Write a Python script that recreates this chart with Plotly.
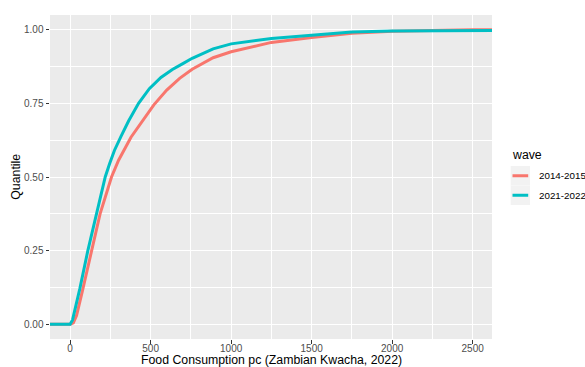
import plotly.graph_objects as go

# ECDF points (x = food consumption pc, q = quantile)
wave_names = ["2014-2015", "2021-2022"]
wave_colors = ["#F8766D", "#00BFC4"]

x_2014 = [-1000, 0, 20, 40, 75, 132, 186, 257, 301, 378, 450, 520, 600, 680, 758, 888, 1000, 1250, 1500, 1750, 2000, 2250, 2500, 4000]
q_2014 = [0, 0, 0.005, 0.03, 0.11, 0.25, 0.375, 0.50, 0.557, 0.635, 0.693, 0.745, 0.795, 0.835, 0.866, 0.905, 0.925, 0.957, 0.974, 0.988, 0.995, 0.998, 1.0, 1.0]

x_2021 = [-1000, 0, 15, 30, 60, 110, 163, 218, 245, 275, 316, 363, 425, 492, 564, 635, 700, 758, 888, 1000, 1250, 1500, 1750, 2000, 2250, 2500, 4000]
q_2021 = [0, 0, 0.015, 0.05, 0.12, 0.25, 0.375, 0.50, 0.545, 0.59, 0.638, 0.69, 0.75, 0.80, 0.838, 0.865, 0.885, 0.903, 0.935, 0.952, 0.970, 0.982, 0.992, 0.996, 0.998, 1.0, 1.0]

x_ticks = [0, 500, 1000, 1500, 2000, 2500]
y_ticks = [0.0, 0.25, 0.5, 0.75, 1.0]
y_tick_labels = ["0.00", "0.25", "0.50", "0.75", "1.00"]

FONT = "Liberation Sans, Arial, sans-serif"

fig = go.Figure()
for name, color, xs, qs in [(wave_names[0], wave_colors[0], x_2014, q_2014),
                            (wave_names[1], wave_colors[1], x_2021, q_2021)]:
    fig.add_trace(go.Scatter(x=xs, y=qs, mode="lines", name=name,
                             line=dict(color=color, width=3), showlegend=False))

L, R, T, B = 50, 93, 15, 28
W, H = 585, 367
pw, ph = W - L - R, H - T - B

def px(xp):
    return (xp - L) / pw

def py(yp):
    return (H - B - yp) / ph

fig.update_layout(
    width=W, height=H,
    margin=dict(l=L, r=R, t=T, b=B, autoexpand=False),
    paper_bgcolor="white", plot_bgcolor="#EBEBEB",
    font=dict(family=FONT),
    xaxis=dict(range=[-125, 2620], tickvals=x_ticks, ticktext=[str(v) for v in x_ticks],
               showgrid=True, gridcolor="white", gridwidth=1.2, zeroline=False,
               ticks="outside", ticklen=3.5, tickcolor="#333333", tickwidth=1,
               tickfont=dict(size=10, color="#4D4D4D", family=FONT),
               ticklabelstandoff=-4,
               minor=dict(tickvals=[-250, 250, 750, 1250, 1750, 2250], showgrid=True,
                          gridcolor="white", gridwidth=0.6, ticks=""),
               showline=False, automargin=False),
    yaxis=dict(range=[-0.05, 1.05], tickvals=y_ticks, ticktext=y_tick_labels,
               showgrid=True, gridcolor="white", gridwidth=1.2, zeroline=False,
               ticks="outside", ticklen=3.5, tickcolor="#333333", tickwidth=1,
               tickfont=dict(size=10, color="#4D4D4D", family=FONT),
               minor=dict(tickvals=[0.125, 0.375, 0.625, 0.875], showgrid=True,
                          gridcolor="white", gridwidth=0.6, ticks=""),
               showline=False, automargin=False),
)

annotations = [
    dict(text="Food Consumption pc (Zambian Kwacha, 2022)", x=0.5, y=py(360),
         xref="paper", yref="paper", xanchor="center", yanchor="middle",
         showarrow=False, font=dict(size=12.3, color="black", family=FONT)),
    dict(text="Quantile", x=px(15.7), y=py(177), xref="paper", yref="paper",
         xanchor="center", yanchor="middle", textangle=-90,
         showarrow=False, font=dict(size=12.3, color="black", family=FONT)),
    dict(text="wave", x=px(510), y=py(155), xref="paper", yref="paper",
         xanchor="left", yanchor="middle", showarrow=False,
         font=dict(size=12.3, color="black", family=FONT)),
]
shapes = []
key_tops = [166, 185.5]
for i, (name, color) in enumerate(zip(wave_names, wave_colors)):
    top = key_tops[i]
    bot = top + 19.5
    cy = (top + bot) / 2
    shapes.append(dict(type="rect", xref="paper", yref="paper",
                       x0=px(510.7), x1=px(530), y0=py(bot), y1=py(top),
                       fillcolor="#F2F2F2", line=dict(width=0), layer="below"))
    shapes.append(dict(type="line", xref="paper", yref="paper",
                       x0=px(512.5), x1=px(528.2), y0=py(cy), y1=py(cy),
                       line=dict(color=color, width=3)))
    annotations.append(dict(text=name, x=px(536.5), y=py(cy), xref="paper", yref="paper",
                            xanchor="left", yanchor="middle", showarrow=False,
                            font=dict(size=9.8, color="black", family=FONT)))

fig.update_layout(annotations=annotations, shapes=shapes)
fig.write_html("out.html", config={"displayModeBar": False},
               post_script="document.body.style.margin='0px';document.body.style.overflow='hidden';")
